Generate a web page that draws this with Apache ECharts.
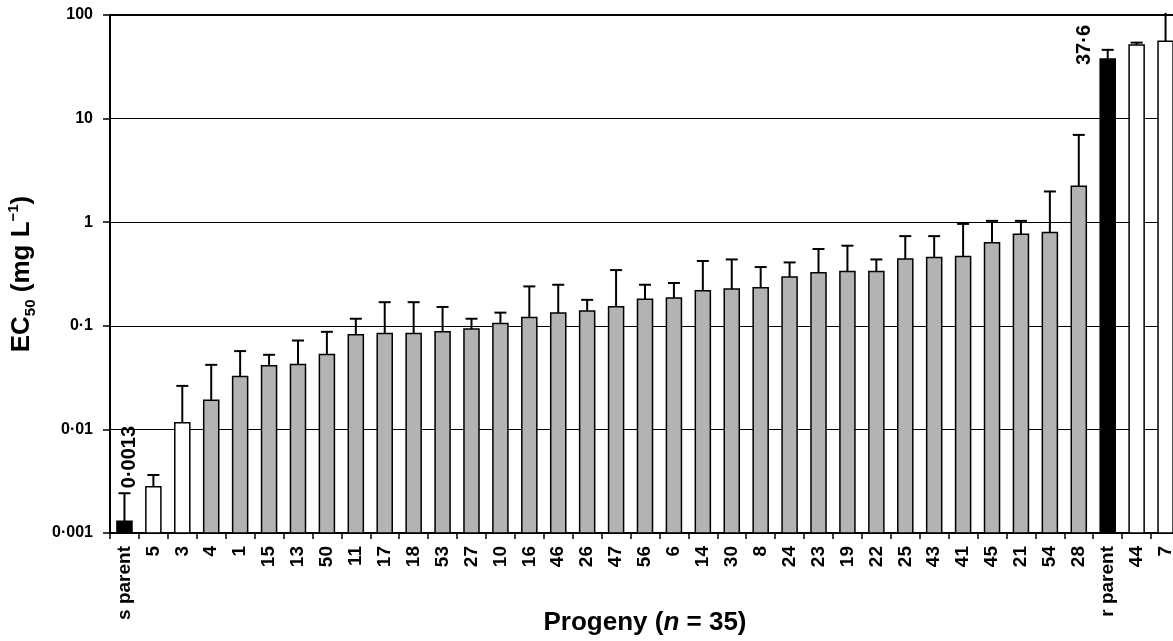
<!DOCTYPE html>
<html>
<head>
<meta charset="utf-8">
<script src="https://cdn.jsdelivr.net/npm/echarts@6/dist/echarts.min.js"></script>
<style>
html,body{margin:0;padding:0;background:#fff;}
#c{width:1173px;height:641px;}
</style>
</head>
<body>
<div id="c"></div>
<script>
// ---- data ----
const categories = ['s parent','5','3','4','1','15','13','50','11','17','18','53','27','10','16','46','26','47','56','6','14','30','8','24','23','19','22','25','43','41','45','21','54','28','r parent','44','7'];
const ec50 = [0.0013,0.0028,0.0116,0.0191,0.0324,0.0411,0.0423,0.0528,0.0818,0.0843,0.0843,0.0875,0.093,0.105,0.120,0.133,0.139,0.153,0.180,0.185,0.218,0.226,0.233,0.296,0.325,0.335,0.335,0.442,0.456,0.467,0.632,0.764,0.795,2.22,37.6,51.2,55.8];
const ec50Upper = [0.00242,0.00363,0.0263,0.042,0.057,0.0525,0.0721,0.0875,0.117,0.169,0.169,0.152,0.117,0.134,0.240,0.249,0.178,0.345,0.249,0.259,0.422,0.437,0.369,0.409,0.551,0.593,0.437,0.734,0.734,0.963,1.03,1.03,1.98,6.96,46.1,54.1,105];
const yTickLabels = ['0·001','0·01','0·1','1','10','100'];
const parentCats = ['s parent','r parent'];
const extremeCats = ['5','3','44','7'];
const annotCats = ['s parent','r parent'];
const annotTexts = ['0·0013','37·6'];

const FONT = '"Liberation Sans", Arial, Helvetica, sans-serif';
const Y_MIN = 0.001, Y_MAX = 100;

function fillFor(cat){
  if (parentCats.indexOf(cat) >= 0) return '#000000';
  if (extremeCats.indexOf(cat) >= 0) return '#ffffff';
  return '#b3b3b3';
}

const seriesData = categories.map((c,i)=>[i, ec50[i], ec50Upper[i]]);

const chart = echarts.init(document.getElementById('c'), null, {renderer:'canvas'});
chart.setOption({
  animation:false,
  backgroundColor:'#ffffff',
  grid:{left:110, top:15, width:1070, height:518, containLabel:false, outerBoundsMode:'none'},
  xAxis:[{
    type:'category', data:categories, boundaryGap:true,
    axisLine:{lineStyle:{color:'#000', width:2}},
    axisTick:{show:true, length:6, lineStyle:{color:'#000', width:1.5}},
    axisLabel:{rotate:90, interval:0, fontSize:19, fontWeight:'bold', color:'#000', fontFamily:FONT, margin:13},
    splitLine:{show:false},
    name:'Progeny ({i|n} = 35)', nameLocation:'middle', nameGap:77, nameMoveOverlap:false,
    nameTextStyle:{fontSize:26, fontWeight:'bold', color:'#000', fontFamily:FONT,
      rich:{i:{fontStyle:'italic', fontSize:26, fontWeight:'bold', color:'#000', fontFamily:FONT}}}
  },{
    type:'category', data:categories, position:'top',
    axisLine:{show:true, lineStyle:{color:'#000', width:2}},
    axisTick:{show:false}, axisLabel:{show:false}, splitLine:{show:false}
  }],
  yAxis:{
    type:'log', logBase:10, min:Y_MIN, max:Y_MAX, splitNumber:5,
    axisLine:{show:true, lineStyle:{color:'#000', width:2}},
    axisTick:{show:true, length:7, lineStyle:{color:'#000', width:1.5}},
    minorTick:{show:false},
    splitLine:{show:true, lineStyle:{color:'#000', width:1.2}},
    axisLabel:{fontSize:16, fontWeight:'bold', color:'#000', fontFamily:FONT, margin:17,
      formatter: v => yTickLabels[Math.round(Math.log10(v)) + 3]},
    name:'EC{sub|50} (mg L{sup|−1})', nameLocation:'middle', nameGap:72, nameMoveOverlap:false,
    nameTextStyle:{fontSize:26, fontWeight:'bold', color:'#000', fontFamily:FONT, lineHeight:32,
      rich:{
        sub:{fontSize:15, fontWeight:'bold', color:'#000', fontFamily:FONT, lineHeight:14, verticalAlign:'bottom'},
        sup:{fontSize:15, fontWeight:'bold', color:'#000', fontFamily:FONT, lineHeight:14, verticalAlign:'top'}
      }}
  },
  series:[{
    type:'custom',
    data:seriesData,
    encode:{x:0, y:1},
    clip:false,
    renderItem:function(params, api){
      const i = api.value(0);
      const v = api.value(1);
      const up = api.value(2);
      const cat = categories[i];
      const top = api.coord([i, v]);
      const base = api.coord([i, Y_MIN]);
      const errTop = api.coord([i, up]);
      const bw = api.size([1, 0])[0] * 0.52;
      const children = [];
      children.push({type:'rect', shape:{x:top[0]-bw/2, y:top[1], width:bw, height:base[1]-top[1]},
        style:{fill:fillFor(cat), stroke:'#000', lineWidth:1.5}});
      children.push({type:'line', shape:{x1:top[0], y1:top[1], x2:top[0], y2:errTop[1]},
        style:{stroke:'#000', lineWidth:2}});
      if (up <= Y_MAX) {
        children.push({type:'line', shape:{x1:top[0]-6, y1:errTop[1], x2:top[0]+6, y2:errTop[1]},
          style:{stroke:'#000', lineWidth:2}});
      }
      const ai = annotCats.indexOf(cat);
      if (ai >= 0) {
        let ax, ay;
        if (ai === 0) { ax = top[0] + 5; ay = errTop[1] - 5; }
        else { ax = top[0] - 23; ay = top[1] + 6; }
        children.push({type:'text', x:ax, y:ay, rotation:Math.PI/2,
          style:{text:annotTexts[ai], fill:'#000', font:'bold 20px ' + FONT, align:'left', verticalAlign:'middle'}});
      }
      return {type:'group', children:children};
    }
  }]
});
</script>
</body>
</html>
